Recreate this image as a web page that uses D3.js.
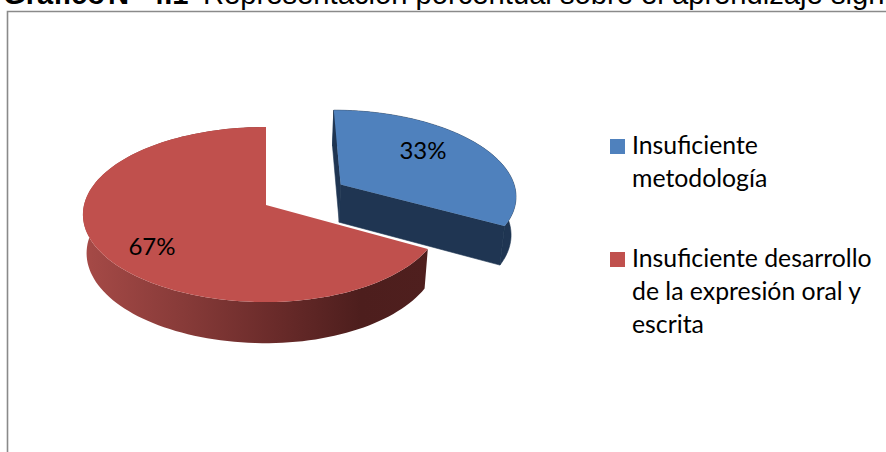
<!DOCTYPE html>
<html><head><meta charset="utf-8">
<script src="https://cdnjs.cloudflare.com/ajax/libs/d3/7.8.5/d3.min.js"></script>
<style>html,body{margin:0;padding:0;background:#fff;overflow:hidden}svg{display:block}</style>
</head><body>
<svg id="c" width="886" height="452"></svg>
<script>
const categories = ["Insuficiente metodología", "Insuficiente desarrollo de la expresión oral y escrita"];
const values = [33, 67];
const legendLines = [["Insuficiente", "metodología"], ["Insuficiente desarrollo", "de la expresión oral y", "escrita"]];
const titleBold = ["Gráfico", "N°", "4.1"];
const titleRest = "Representación porcentual sobre el aprendizaje significativo";
const explode = [0.48, 0];

const W = 886, H = 452;
const svg = d3.select("#c").attr("viewBox", `0 0 ${W} ${H}`);

// frame
svg.append("path").attr("d", `M7.5 ${H}V11.5H${W}`).attr("fill", "none").attr("stroke", "#8a8a8a").attr("stroke-width", 1.6);

// title
const title = svg.append("text").attr("y", 4).attr("font-family", "Liberation Sans").attr("font-size", 29.2).attr("fill", "#000");
const titleX = [3, 108, 148];
titleBold.forEach((t, i) => title.append("tspan").attr("x", titleX[i]).attr("font-weight", "bold").text(t));
title.append("tspan").attr("x", 203).text(titleRest);

// perspective pie geometry
const cx = 266, cy = 205, Ry = 86.5, k = 0.1086, depth = 38.4, shrink = 0.98;
const radii = [[178, 178], [182, 175]];
const shiftX = [3, 0];
const project = (u, v, z, i) => {
  const f = 1 / (1 - k * v);
  const s = z ? shrink : 1;
  const R = radii[i][u > 0 ? 1 : 0];
  return [cx + shiftX[i] + R * u * f * s, cy + Ry * v * f * s + (z ? depth * f : 0)];
};
const line = d3.line().curve(d3.curveLinear);
const slices = d3.pie().sort(null)(values);
const steps = a => d3.range(0, 121).map(i => a.startAngle + (a.endAngle - a.startAngle) * i / 120);

const defs = svg.append("defs");
const grad = defs.append("linearGradient").attr("id", "redSide").attr("gradientUnits", "userSpaceOnUse")
  .attr("x1", 84).attr("x2", 430).attr("y1", 0).attr("y2", 0);
[[0, "#a64a47"], [0.3, "#863a38"], [0.55, "#6a2b2a"], [0.8, "#4d1e1d"], [1, "#4f1f1e"]]
  .forEach(d => grad.append("stop").attr("offset", d[0]).attr("stop-color", d[1]));

const topColors = ["#4f81bd", "#c0504d"];
const wallColors = ["#1f3552", "url(#redSide)"];

slices.forEach((s, i) => {
  const mid = (s.startAngle + s.endAngle) / 2, e = explode[i];
  const as = steps(s);
  const g = svg.append("g");
  const at = (a, r, z) => project(r * Math.sin(a) + e * Math.sin(mid), -r * Math.cos(a) - e * Math.cos(mid), z, i);
  // outer wall
  g.append("path").attr("fill", wallColors[i]).attr("stroke", i === 0 ? wallColors[i] : "none").attr("stroke-width", 0.6)
    .attr("d", line(as.map(a => at(a, 1, 0)).concat(as.slice().reverse().map(a => at(a, 1, 1)))) + "Z");
  // cut faces
  if (i === 0) {
    [s.startAngle, s.endAngle].forEach(a => {
      g.append("path").attr("fill", wallColors[i]).attr("stroke", wallColors[i]).attr("stroke-width", 0.6)
        .attr("d", line([at(a, 0, 0), at(a, 1, 0), at(a, 1, 1), at(a, 0, 1)]) + "Z");
    });
  }
  // top face
  g.append("path").attr("fill", topColors[i])
    .attr("d", line([at(0, 0, 0)].concat(as.map(a => at(a, 1, 0)))) + "Z");
});

// data labels
const labelFont = "Lato";
const labelPos = [[423, 159], [152, 255]];
slices.forEach((s, i) => {
  svg.append("text").attr("x", labelPos[i][0]).attr("y", labelPos[i][1]).attr("text-anchor", "middle")
    .attr("font-family", labelFont).attr("font-size", 24).attr("fill", "#000").text(s.value + "%");
});

// legend
const legendY = [154, 267], lineH = 33;
categories.forEach((c, i) => {
  svg.append("rect").attr("x", 610).attr("y", legendY[i] - 15).attr("width", 15).attr("height", 15).attr("fill", topColors[i]);
  legendLines[i].forEach((t, j) => {
    svg.append("text").attr("x", 632).attr("y", legendY[i] + j * lineH)
      .attr("font-family", labelFont).attr("font-size", 24.8).attr("fill", "#000").text(t);
  });
});
</script>
</body></html>
